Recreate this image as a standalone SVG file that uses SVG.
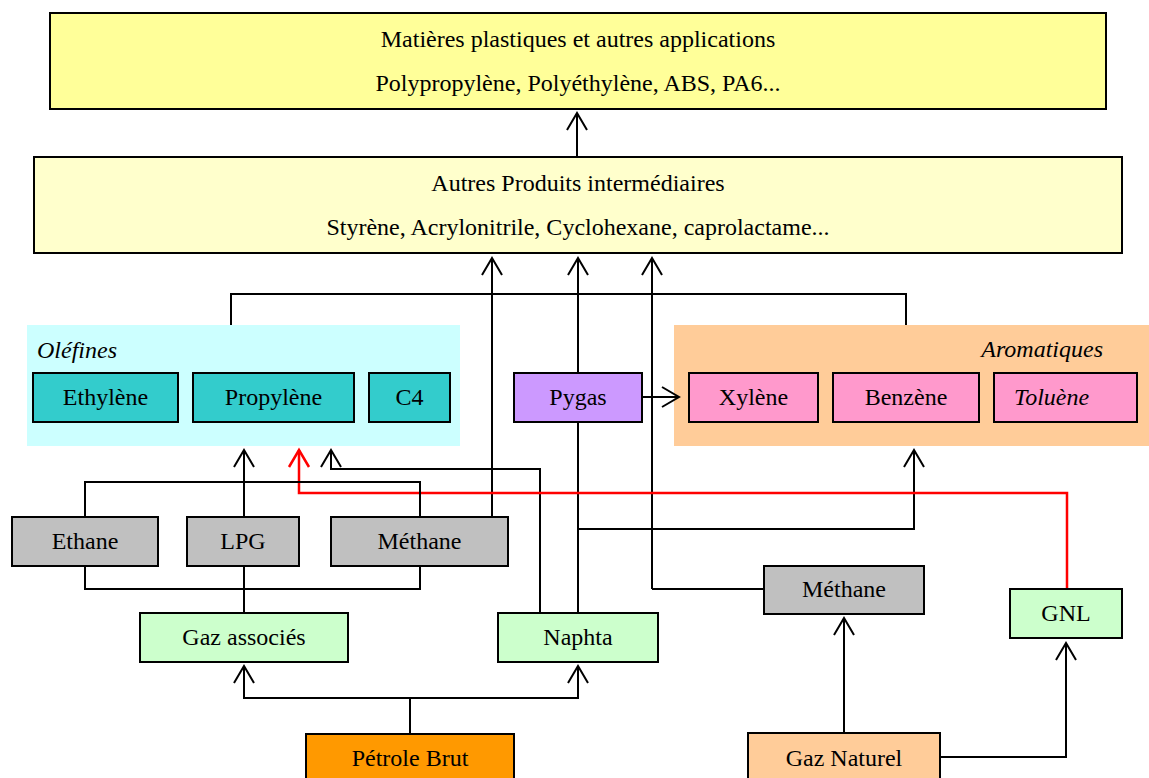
<svg xmlns="http://www.w3.org/2000/svg" width="1149" height="778" viewBox="0 0 1149 778">
<style>
text{font-family:"Liberation Serif","Times New Roman",serif;font-size:24px;fill:#000;text-anchor:middle}
.it{font-style:italic}
.box{stroke:#000;stroke-width:2}
.ln{fill:none;stroke:#000;stroke-width:2}
.red{fill:none;stroke:#ff0000;stroke-width:2.5}
.arr{marker-end:url(#ah)}
.rarr{marker-end:url(#ahr)}
</style>
<defs>
<marker id="ah" markerUnits="userSpaceOnUse" markerWidth="22" markerHeight="24" refX="19" refY="12" orient="auto" overflow="visible">
<path d="M2,2 L19,12 L2,22" fill="none" stroke="#000" stroke-width="2"/>
</marker>
<marker id="ahr" markerUnits="userSpaceOnUse" markerWidth="22" markerHeight="24" refX="19" refY="12" orient="auto" overflow="visible">
<path d="M2,2 L19,12 L2,22" fill="none" stroke="#ff0000" stroke-width="2.5"/>
</marker>
</defs>
<rect width="1149" height="778" fill="#fff"/>

<g id="olefines-group">
<rect x="27" y="325" width="433" height="121" fill="#ccffff"/>
<text class="it" x="37" y="358" style="text-anchor:start">Oléfines</text>
</g>
<g id="aromatiques-group">
<rect x="674" y="325" width="475" height="121" fill="#ffcc99"/>
<text class="it" x="1103" y="357" style="text-anchor:end">Aromatiques</text>
</g>

<g id="connectors">
<line class="ln arr" x1="577" y1="157" x2="577" y2="113"/>
<polyline class="ln" points="231,325 231,294 906,294 906,325"/>
<line class="ln arr" x1="492" y1="517" x2="492" y2="258"/>
<line class="ln arr" x1="578" y1="373" x2="578" y2="258"/>
<line class="ln" x1="578" y1="613" x2="578" y2="422"/>
<polyline class="ln arr" points="652,589 652,258"/>
<line class="ln" x1="652" y1="589" x2="764" y2="589"/>
<line class="ln arr" x1="642" y1="397" x2="679" y2="397"/>
<polyline class="ln arr" points="578,529 914,529 914,450"/>
<polyline class="ln arr" points="540,613 540,469 331,469 331,450"/>
<polyline class="red rarr" points="1067,589 1067,493 299,493 299,450"/>
<line class="ln arr" x1="244" y1="517" x2="244" y2="450"/>
<polyline class="ln" points="85,517 85,482 420,482 420,517"/>
<polyline class="ln" points="85,566 85,589 420,589 420,566"/>
<line class="ln" x1="244" y1="566" x2="244" y2="613"/>
<line class="ln" x1="410" y1="734" x2="410" y2="698"/>
<polyline class="ln arr" points="410,698 244,698 244,666"/>
<polyline class="ln arr" points="410,698 578,698 578,666"/>
<line class="ln arr" x1="844" y1="733" x2="844" y2="618"/>
<polyline class="ln arr" points="940,757 1066,757 1066,643"/>
</g>

<g id="matieres">
<rect class="box" x="50" y="13" width="1056" height="96" fill="#ffff99"/>
<text x="578" y="47">Matières plastiques et autres applications</text>
<text x="578" y="91">Polypropylène, Polyéthylène, ABS, PA6...</text>
</g>
<g id="intermediaires">
<rect class="box" x="34" y="157" width="1088" height="96" fill="#ffffcc"/>
<text x="578" y="191">Autres Produits intermédiaires</text>
<text x="578" y="235">Styrène, Acrylonitrile, Cyclohexane, caprolactame...</text>
</g>

<g id="ethylene">
<rect class="box" x="33" y="373" width="145" height="49" fill="#33cccc"/>
<text x="105.5" y="405">Ethylène</text>
</g>
<g id="propylene">
<rect class="box" x="193" y="373" width="161" height="49" fill="#33cccc"/>
<text x="273.5" y="405">Propylène</text>
</g>
<g id="c4">
<rect class="box" x="369" y="373" width="81" height="49" fill="#33cccc"/>
<text x="409.5" y="405">C4</text>
</g>
<g id="pygas">
<rect class="box" x="514" y="373" width="128" height="49" fill="#cc99ff"/>
<text x="578" y="405">Pygas</text>
</g>
<g id="xylene">
<rect class="box" x="689" y="373" width="129" height="49" fill="#ff99cc"/>
<text x="753.5" y="405">Xylène</text>
</g>
<g id="benzene">
<rect class="box" x="833" y="373" width="146" height="49" fill="#ff99cc"/>
<text x="906" y="405">Benzène</text>
</g>
<g id="toluene">
<rect class="box" x="994" y="373" width="143" height="49" fill="#ff99cc"/>
<text class="it" x="1014" y="405" style="text-anchor:start">Toluène</text>
</g>

<g id="ethane">
<rect class="box" x="12" y="517" width="146" height="49" fill="#c0c0c0"/>
<text x="85" y="549">Ethane</text>
</g>
<g id="lpg">
<rect class="box" x="187" y="517" width="112" height="49" fill="#c0c0c0"/>
<text x="243" y="549">LPG</text>
</g>
<g id="methane1">
<rect class="box" x="331" y="517" width="177" height="49" fill="#c0c0c0"/>
<text x="419.5" y="549">Méthane</text>
</g>
<g id="methane2">
<rect class="box" x="764" y="566" width="160" height="48" fill="#c0c0c0"/>
<text x="844" y="597">Méthane</text>
</g>
<g id="gnl">
<rect class="box" x="1010" y="589" width="112" height="49" fill="#ccffcc"/>
<text x="1066" y="621">GNL</text>
</g>
<g id="gaz-associes">
<rect class="box" x="140" y="613" width="208" height="49" fill="#ccffcc"/>
<text x="244" y="645">Gaz associés</text>
</g>
<g id="naphta">
<rect class="box" x="498" y="613" width="160" height="49" fill="#ccffcc"/>
<text x="578" y="645">Naphta</text>
</g>
<g id="petrole-brut">
<rect class="box" x="306" y="734" width="208" height="60" fill="#ff9900"/>
<text x="410" y="766">Pétrole Brut</text>
</g>
<g id="gaz-naturel">
<rect class="box" x="748" y="733" width="192" height="60" fill="#ffcc99"/>
<text x="844" y="766">Gaz Naturel</text>
</g>
</svg>
